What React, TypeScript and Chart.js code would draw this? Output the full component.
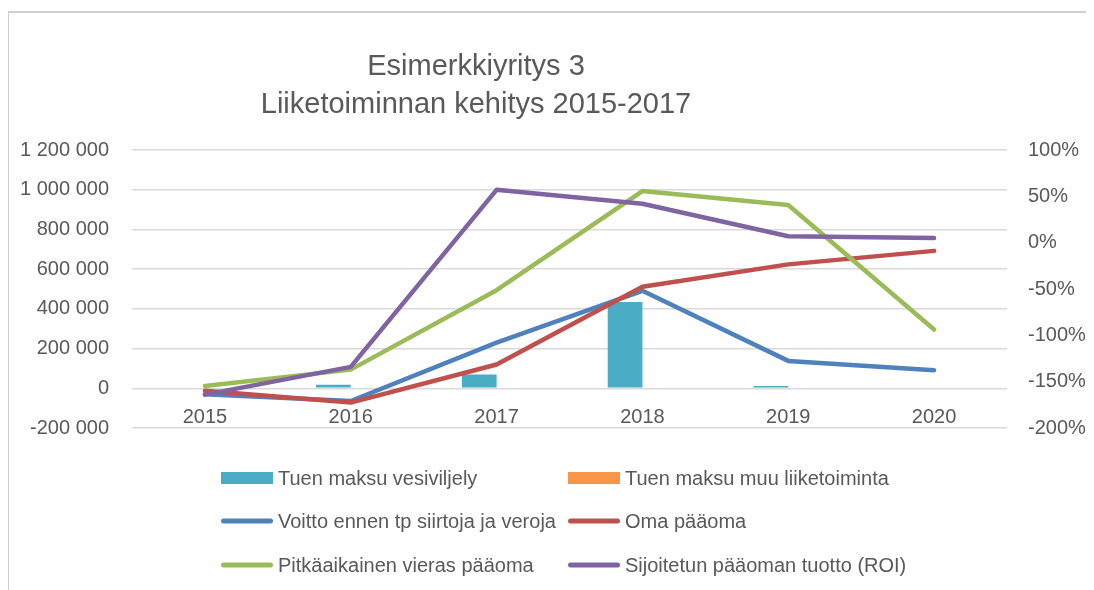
import React, { useEffect, useRef } from 'react';
import { Chart, registerables } from 'chart.js';

Chart.register(...registerables);

// ---- data ----
const years = ['2015', '2016', '2017', '2018', '2019', '2020'];
const tukiVesiviljely = [0, 18000, 69000, 435000, 12000, 0];
const tukiMuu = [0, 0, 0, 0, 0, 0];
const voitto = [-30000, -64000, 230000, 491000, 138000, 91000];
const omaPaaoma = [-12000, -72000, 120000, 511000, 624000, 692000];
const pitkaVieras = [12000, 94000, 494000, 993000, 923000, 296000];
const roi = [-164, -134, 57, 42, 7, 5];

const seriesLabels = [
  'Tuen maksu vesiviljely',
  'Tuen maksu muu liiketoiminta',
  'Voitto ennen tp siirtoja ja veroja',
  'Oma pääoma',
  'Pitkäaikainen vieras pääoma',
  'Sijoitetun pääoman tuotto (ROI)',
];
const titleLines = ['Esimerkkiyritys 3', 'Liiketoiminnan kehitys 2015-2017'];

const leftMin = -200000;
const leftMax = 1200000;
const leftStep = 200000;
const rightMin = -200;
const rightMax = 100;
const rightStep = 50;

// ---- styles ----
const TEXT = '#595959';
const GRID = '#d9d9d9';
const FRAME = '#d0d0d0';
const FONT = "'Liberation Sans', Arial, sans-serif";
const COLORS = ['#4bacc6', '#f79646', '#4f81bd', '#c0504d', '#9bbb59', '#8064a2'];

const fmtThousands = (v: number) => {
  const s = String(Math.abs(Math.round(v))).replace(/\B(?=(\d{3})+(?!\d))/g, ' ');
  return (v < 0 ? '-' : '') + s;
};

const decorPlugin = {
  id: 'excelDecor',
  beforeDraw(chart: any) {
    const ctx = chart.ctx as CanvasRenderingContext2D;
    ctx.save();
    ctx.fillStyle = '#ffffff';
    ctx.fillRect(0, 0, chart.width, chart.height);
    ctx.fillStyle = FRAME;
    ctx.fillRect(1, 0, 3, chart.height);
    ctx.fillRect(1, 0, chart.width, 2);
    ctx.restore();
  },
  afterDraw(chart: any) {
    const ctx = chart.ctx as CanvasRenderingContext2D;
    ctx.save();
    // title
    ctx.fillStyle = TEXT;
    ctx.textAlign = 'center';
    ctx.textBaseline = 'alphabetic';
    ctx.font = `29px ${FONT}`;
    ctx.fillText(titleLines[0], 471, 64);
    ctx.fillText(titleLines[1], 471, 102);
    // legend (two columns)
    const cols = [216, 563];
    const rows = [467, 510, 554];
    chart.data.datasets.forEach((d: any, i: number) => {
      const x = cols[i % 2];
      const y = rows[Math.floor(i / 2)];
      if (d.type === 'bar') {
        ctx.fillStyle = d.backgroundColor;
        ctx.fillRect(x, y - 6, 52, 12);
      } else {
        ctx.strokeStyle = d.borderColor;
        ctx.lineWidth = 5;
        ctx.lineCap = 'round';
        ctx.beginPath();
        ctx.moveTo(x + 2.5, y);
        ctx.lineTo(x + 49.5, y);
        ctx.stroke();
      }
      ctx.fillStyle = TEXT;
      ctx.textAlign = 'left';
      ctx.textBaseline = 'middle';
      ctx.font = `20px ${FONT}`;
      ctx.fillText(d.label, x + 57, y + 1);
    });
    ctx.restore();
  },
};

export default function App() {
  const ref = useRef<HTMLCanvasElement | null>(null);

  useEffect(() => {
    document.documentElement.style.overflow = 'hidden';
    if (!ref.current) return;
    const lineBase = {
      type: 'line' as const,
      borderWidth: 4.5,
      pointRadius: 0,
      pointHoverRadius: 0,
      tension: 0,
      borderCapStyle: 'round' as const,
      borderJoinStyle: 'round' as const,
      fill: false,
    };
    const chart = new Chart(ref.current, {
      type: 'bar',
      data: {
        labels: years,
        datasets: [
          {
            type: 'bar',
            label: seriesLabels[0],
            data: tukiVesiviljely,
            backgroundColor: COLORS[0],
            borderWidth: 0,
            yAxisID: 'y',
            order: 5,
            categoryPercentage: 0.476,
            barPercentage: 1,
          },
          {
            type: 'bar',
            label: seriesLabels[1],
            data: tukiMuu,
            backgroundColor: COLORS[1],
            borderWidth: 0,
            yAxisID: 'y',
            order: 6,
            categoryPercentage: 0.476,
            barPercentage: 1,
          },
          { ...lineBase, label: seriesLabels[2], data: voitto, borderColor: COLORS[2], backgroundColor: COLORS[2], yAxisID: 'y', order: 4 },
          { ...lineBase, label: seriesLabels[3], data: omaPaaoma, borderColor: COLORS[3], backgroundColor: COLORS[3], yAxisID: 'y', order: 3 },
          { ...lineBase, label: seriesLabels[4], data: pitkaVieras, borderColor: COLORS[4], backgroundColor: COLORS[4], yAxisID: 'y', order: 2 },
          { ...lineBase, label: seriesLabels[5], data: roi, borderColor: COLORS[5], backgroundColor: COLORS[5], yAxisID: 'y1', order: 1 },
        ] as any,
      },
      options: {
        responsive: false,
        animation: false,
        layout: { padding: { top: 139, bottom: 162, left: 0, right: 0 } },
        plugins: {
          legend: { display: false },
          title: { display: false },
          tooltip: { enabled: false },
        },
        scales: {
          x: {
            type: 'category',
            position: { y: 0 } as any,
            offset: true,
            grid: { display: false, drawTicks: false },
            border: { display: false },
            ticks: {
              color: TEXT,
              font: { family: FONT, size: 20 },
              padding: 17,
              maxRotation: 0,
              autoSkip: false,
            },
          },
          y: {
            type: 'linear',
            position: 'left',
            min: leftMin,
            max: leftMax,
            grid: { color: GRID, lineWidth: 1.5, drawTicks: false },
            border: { display: false },
            ticks: {
              stepSize: leftStep,
              color: TEXT,
              font: { family: FONT, size: 20 },
              padding: 23,
              callback: (v: any) => fmtThousands(Number(v)),
            },
            afterFit: (s: any) => {
              s.width = 127;
            },
          },
          y1: {
            type: 'linear',
            position: 'right',
            min: rightMin,
            max: rightMax,
            grid: { display: false, drawTicks: false },
            border: { display: false },
            ticks: {
              stepSize: rightStep,
              color: TEXT,
              font: { family: FONT, size: 20 },
              padding: 21,
              callback: (v: any) => `${v}%`,
            },
            afterFit: (s: any) => {
              s.width = 79;
            },
          },
        },
      } as any,
      plugins: [decorPlugin],
    });
    return () => chart.destroy();
  }, []);

  return (
    <div style={{ marginLeft: -3, paddingTop: 3 }}>
      <canvas ref={ref} width={1081} height={579} style={{ display: 'block' }} />
    </div>
  );
}
